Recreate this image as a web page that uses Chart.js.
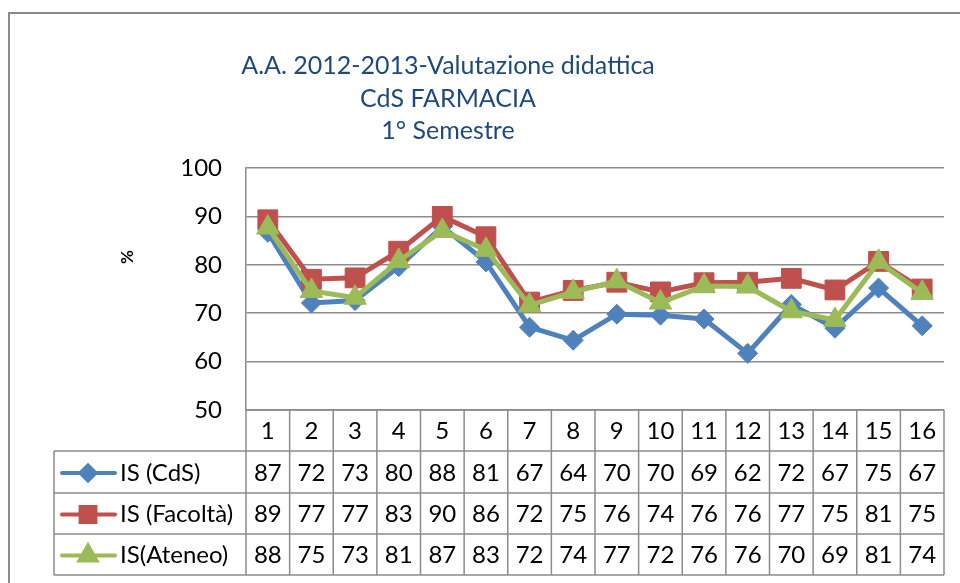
<!DOCTYPE html>
<html>
<head>
<meta charset="utf-8">
<script src="https://cdn.jsdelivr.net/npm/chart.js@4.4.1/dist/chart.umd.min.js"></script>
<style>
  html, body { margin: 0; padding: 0; background: #fff; }
  #wrap { width: 960px; height: 583px; }
</style>
</head>
<body>
<div id="wrap"><canvas id="valutazioneChart" width="960" height="583"></canvas></div>
<script>
// dati (i valori in tabella sono arrotondati)
const CATEGORIES = ['1', '2', '3', '4', '5', '6', '7', '8', '9', '10', '11', '12', '13', '14', '15', '16'];
const IS_CDS = [86.7, 72.1, 72.6, 79.6, 87.9, 80.6, 67.1, 64.4, 69.8, 69.6, 68.8, 61.7, 71.8, 66.9, 75.2, 67.4];
const IS_FACOLTA = [89.3, 77.0, 77.3, 82.8, 90.0, 85.8, 72.3, 74.7, 76.4, 74.4, 76.3, 76.4, 77.2, 74.8, 80.7, 75.0];
const IS_ATENEO = [87.7, 74.6, 73.2, 80.8, 87.0, 83.1, 71.6, 74.4, 76.6, 72.2, 75.6, 75.5, 70.4, 68.6, 80.6, 74.2];
const SERIES_LABELS = ['IS (CdS)', 'IS (Facoltà)', 'IS(Ateneo)'];
const Y_MIN = 50;
const Y_MAX = 100;
const Y_STEP = 10;
const TITLE_LINES = ['A.A. 2012-2013-Valutazione didattica', 'CdS FARMACIA', '1° Semestre'];
const Y_AXIS_TITLE = '%';

const BLUE = '#4F81BD';
const RED = '#C0504D';
const GREEN = '#9BBB59';
const GRID = '#8c8c8c';
const TITLE_COLOR = '#1F497D';
const FONT = 'Lato, "Open Sans", sans-serif';

const ROW_TOP = 410;     // inizio tabella (= fondo area grafico)
const ROW_H = [41, 42, 41, 41];
const TABLE_LEFT = 54;

/** titolo, bordo esterno, titolo asse Y */
const frame = {
  id: 'frame',
  afterDraw(chart) {
    const ctx = chart.ctx;
    ctx.save();
    ctx.strokeStyle = '#8a8a8a';
    ctx.lineWidth = 2;
    ctx.beginPath();
    ctx.moveTo(9, 583);
    ctx.lineTo(9, 13);
    ctx.lineTo(960, 13);
    ctx.stroke();

    ctx.fillStyle = TITLE_COLOR;
    ctx.font = '25px ' + FONT;
    ctx.textAlign = 'center';
    ctx.textBaseline = 'middle';
    TITLE_LINES.forEach((t, i) => ctx.fillText(t, 448, 66 + i * 32.5));

    ctx.fillStyle = '#000';
    ctx.font = 'bold 17px ' + FONT;
    ctx.translate(128, 257);
    ctx.rotate(-Math.PI / 2);
    ctx.fillText(Y_AXIS_TITLE, 0, 0);
    ctx.restore();
  },
};

/** tabella dati sotto il grafico, con legenda */
const dataTable = {
  id: 'dataTable',
  afterDraw(chart) {
    const ctx = chart.ctx;
    const x = chart.scales.x;
    const area = chart.chartArea;
    const colW = (area.right - area.left) / CATEGORIES.length;
    const rows = [ROW_TOP];
    ROW_H.forEach((h) => rows.push(rows[rows.length - 1] + h));

    ctx.save();
    ctx.strokeStyle = GRID;
    ctx.lineWidth = 1.5;
    ctx.beginPath();
    // righe orizzontali
    ctx.moveTo(area.left, rows[0]);
    ctx.lineTo(area.right, rows[0]);
    for (let r = 1; r < rows.length; r++) {
      ctx.moveTo(TABLE_LEFT, rows[r]);
      ctx.lineTo(area.right, rows[r]);
    }
    // colonne
    for (let c = 0; c <= CATEGORIES.length; c++) {
      const px = area.left + c * colW;
      ctx.moveTo(px, rows[0]);
      ctx.lineTo(px, rows[rows.length - 1]);
    }
    ctx.moveTo(TABLE_LEFT, rows[1]);
    ctx.lineTo(TABLE_LEFT, rows[rows.length - 1]);
    ctx.stroke();

    ctx.fillStyle = '#000';
    ctx.font = '24px ' + FONT;
    ctx.textBaseline = 'middle';
    ctx.textAlign = 'center';
    CATEGORIES.forEach((cat, i) => {
      ctx.fillText(cat, x.getPixelForValue(i), (rows[0] + rows[1]) / 2 + 1);
    });

    chart.data.datasets.forEach((ds, d) => {
      const cy = (rows[d + 1] + rows[d + 2]) / 2 + 1;
      ctx.textAlign = 'center';
      ctx.fillStyle = '#000';
      ds.data.forEach((v, i) => {
        ctx.fillText(String(Math.round(v)), x.getPixelForValue(i), cy);
      });

      // campione della legenda
      ctx.strokeStyle = ds.borderColor;
      ctx.fillStyle = ds.borderColor;
      ctx.lineWidth = 4;
      ctx.lineCap = 'round';
      ctx.beginPath();
      ctx.moveTo(62, cy);
      ctx.lineTo(115, cy);
      ctx.stroke();
      Chart.helpers.drawPoint(ctx, {
        pointStyle: ds.pointStyle,
        radius: ds.pointRadius * 0.75,
        rotation: 0,
        borderWidth: 1,
      }, 88, cy);

      ctx.fillStyle = '#000';
      ctx.textAlign = 'left';
      ctx.fillText(SERIES_LABELS[d], 120, cy);
    });
    ctx.restore();
  },
};

function makeDataset(label, data, color, pointStyle, radius, order) {
  return {
    label,
    data,
    order,
    borderColor: color,
    backgroundColor: color,
    borderWidth: 5,
    tension: 0,
    pointStyle,
    pointRadius: radius,
    pointBackgroundColor: color,
    pointBorderColor: color,
    pointBorderWidth: 1,
  };
}

function renderChart() {
  const canvas = document.getElementById('valutazioneChart');
  if (!canvas || typeof Chart === 'undefined') {
    return;
  }

  new Chart(canvas.getContext('2d'), {
    type: 'line',
    data: {
      labels: CATEGORIES,
      datasets: [
        makeDataset(SERIES_LABELS[0], IS_CDS, BLUE, 'rectRot', 10, 2),
        makeDataset(SERIES_LABELS[1], IS_FACOLTA, RED, 'rect', 14, 1),
        makeDataset(SERIES_LABELS[2], IS_ATENEO, GREEN, 'triangle', 13, 0),
      ],
    },
    options: {
      responsive: false,
      devicePixelRatio: 1,
      animation: false,
      layout: {
        padding: { left: 0, right: 16, top: 168, bottom: 583 - ROW_TOP },
      },
      plugins: {
        legend: { display: false },
        title: { display: false },
        tooltip: { enabled: false },
      },
      scales: {
        x: {
          type: 'category',
          offset: true,
          display: false,
        },
        y: {
          min: Y_MIN,
          max: Y_MAX,
          afterFit(scale) {
            scale.width = 246;
          },
          ticks: {
            stepSize: Y_STEP,
            color: '#000',
            padding: 24,
            font: { family: FONT, size: 24 },
          },
          grid: {
            color: GRID,
            lineWidth: 1.5,
            drawTicks: false,
          },
          border: { color: GRID, width: 1.5 },
        },
      },
    },
    plugins: [frame, dataTable],
  });
}

document.addEventListener('DOMContentLoaded', renderChart);
</script>
</body>
</html>
